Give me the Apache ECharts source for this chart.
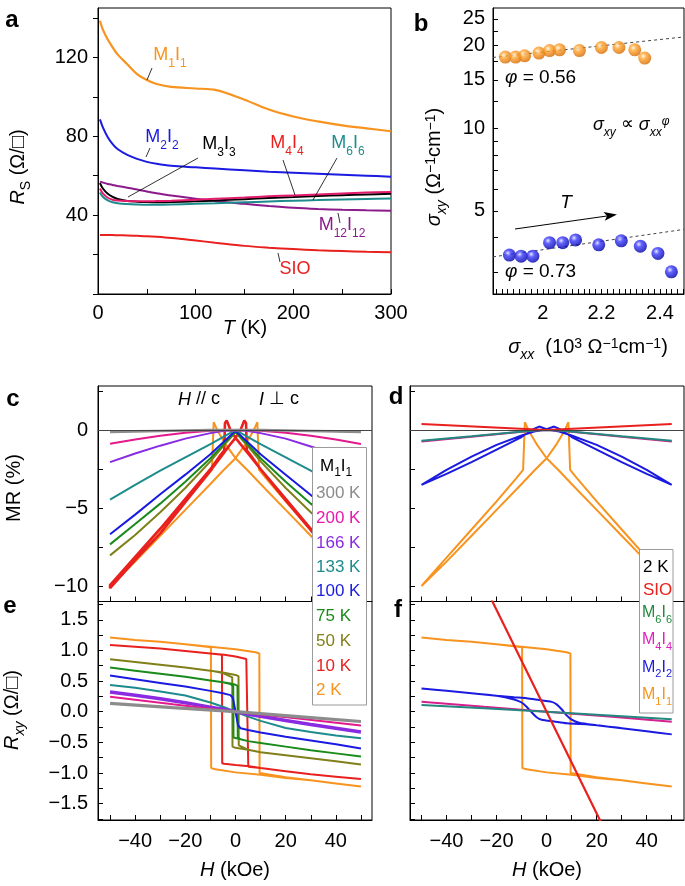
<!DOCTYPE html>
<html><head><meta charset="utf-8">
<script src="https://cdn.jsdelivr.net/npm/echarts@6/dist/echarts.min.js"></script>
<style>html,body{margin:0;padding:0;background:#fff}#c{width:685px;height:886px}</style>
</head><body><div id="c"></div><script>
const FONT = "'Liberation Sans', Arial, Helvetica, sans-serif";

// ---------- Panel a : R_S vs T ----------
const tempA = [2,5,10,15,20,30,40,50,60,75,100,120,150,175,200,225,250,275,300];
const rsM1I1 = [138.5,134,129,125,121.5,116.5,111.5,108.5,106.5,105,104.2,103.5,98.5,93.5,90,87.5,85.5,84,82.5];
const rsM2I2 = [88.5,84.5,79.5,76,73.5,70.5,68.5,67,66,65,64.2,63.6,62.7,62,61.5,61,60.5,60,59.5];
const rsM3I3 = [56.2,53.5,50.8,49.2,48.2,47.2,46.8,46.6,46.5,46.6,47.0,47.4,48.1,48.7,49.2,49.7,50.1,50.5,50.8];
const rsM4I4 = [53.5,51,48.8,47.8,47.4,47.1,47.0,47.0,47.1,47.3,47.8,48.3,48.9,49.5,50.0,50.5,51.0,51.4,51.7];
const rsM6I6 = [51.5,49.3,47.5,46.5,46.0,45.6,45.4,45.3,45.3,45.4,45.7,46.0,46.5,46.9,47.3,47.6,47.9,48.2,48.4];
const rsM12I12 = [57.0,56.5,55.8,55.3,54.8,53.9,53.0,52.0,51.1,49.9,48.3,47.1,45.7,44.6,43.7,43.1,42.7,42.4,42.2];
const rsSIO = [29.9,29.9,29.9,29.9,29.8,29.7,29.5,29.3,29.0,28.4,27.1,26.0,24.4,23.5,22.8,22.2,21.8,21.4,21.2];
const aXTicks = [0,50,100,150,200,250,300];
const aXLabels = [0,100,200,300];
const aYTicks = [0,20,40,60,80,100,120,140];
const aYLabels = [40,80,120];

// ---------- Panel b : sigma_xy vs sigma_xx ----------
const sxxOrange = [1.872,1.907,1.938,1.987,2.023,2.057,2.125,2.200,2.260,2.314,2.348];
const sxyOrange = [18.15,18.15,18.35,18.77,19.18,19.29,19.18,19.67,19.67,19.29,18.0];
const sxxBlue = [1.886,1.926,1.966,2.023,2.068,2.112,2.191,2.268,2.333,2.393,2.439];
const sxyBlue = [3.45,3.42,3.42,3.83,3.83,3.92,3.76,3.89,3.72,3.50,3.00];
const fitX = [1.83, 2.482];
const fitOrange = [18.1, 21.5];
const fitBlue = [3.40, 4.28];
const bXLabels = [2, 2.2, 2.4];
const bYTicks = [3,4,5,6,7,8,9,10,12.5,15,17.5,20,22.5,25];
const bYLabels = [5,10,15,20,25];

// ---------- Panel c : MR vs H (M1I1) ----------
const mrH = [-50,-40,-30,-20,-10,-5,0,5,10,20,30,40,50];
const mr300K = [-0.12,-0.09,-0.06,-0.03,-0.01,0,0,0,-0.01,-0.03,-0.06,-0.09,-0.12];
const mr200K = [-0.88,-0.6,-0.36,-0.17,-0.05,-0.01,0,-0.01,-0.05,-0.17,-0.36,-0.6,-0.9];
const mr166K = [-2.05,-1.5,-1.0,-0.55,-0.2,-0.06,0,-0.06,-0.2,-0.55,-1.05,-1.55,-2.05];
const mr133K = [-4.45,-3.5,-2.6,-1.75,-0.9,-0.45,0,-0.45,-0.9,-1.75,-2.6,-3.5,-4.45];
const mr100K = [-6.65,-5.4,-4.1,-2.85,-1.55,-0.8,-0.05,-0.8,-1.55,-2.85,-4.15,-5.4,-6.65];
const mr75K = [-7.3,-6.0,-4.7,-3.3,-1.8,-0.95,-0.1,-0.95,-1.8,-3.3,-4.7,-6.0,-7.3];
const mr50K = [-8.0,-6.7,-5.25,-3.7,-2.0,-1.05,-0.15,-1.05,-2.0,-3.7,-5.25,-6.7,-8.0];
const mr10KH = [50,40,30,20,10,5,2,0,-2,-3.5,-4.2,-4.5,-6,-10,-20,-30,-40,-50,
                -50,-40,-30,-20,-10,-5,-2,0,2,3.5,4.2,4.5,6,10,20,30,40,50];
const mr10K = [-10.0,-8.2,-6.4,-4.5,-2.5,-1.5,-0.9,-0.5,0.0,0.6,0.45,-1.3,-1.6,-2.5,-4.4,-6.3,-8.1,-9.9,
               -10.1,-8.3,-6.6,-4.6,-2.6,-1.55,-0.9,-0.5,0.0,0.6,0.45,-1.3,-1.6,-2.5,-4.4,-6.3,-8.1,-9.95];
const mr2KH = [50,40,30,20,10,5,0,-4,-7,-8.7,-9.2,-9.4,-12,-20,-30,-40,-50,
               -50,-40,-30,-20,-10,-5,0,4,7,8.7,9.2,9.4,12,20,30,40,50];
const mr2K = [-10.0,-8.4,-6.75,-5.1,-3.45,-2.6,-1.8,-0.9,-0.1,0.5,0.4,-2.55,-3.05,-4.55,-6.35,-8.15,-9.95,
              -9.95,-8.4,-6.75,-5.1,-3.45,-2.6,-1.8,-0.9,-0.1,0.5,0.4,-2.55,-3.05,-4.55,-6.35,-8.15,-10.0];

// ---------- Panel d : MR at 2 K ----------
const h5 = [-50,-25,0,25,50];
const h9 = [-50,-30,-15,-5,0,5,15,30,50];
const mrSIO = [0.38,0.19,0.0,0.19,0.38];
const mrM6I6 = [-0.68,-0.4,-0.17,-0.03,0,-0.03,-0.17,-0.4,-0.68];
const mrM4I4 = [-0.73,-0.43,-0.19,-0.04,0,-0.04,-0.19,-0.43,-0.73];
const mrM2I2H = [50,40,30,20,10,5,0,-3,-6,-10,-20,-30,-40,-50,
                 -50,-40,-30,-20,-10,-5,0,3,6,10,20,30,40,50];
const mrM2I2 = [-3.5,-2.55,-1.7,-0.95,-0.35,-0.1,0.05,0.22,0.0,-0.45,-1.25,-2.05,-2.8,-3.5,
                -3.5,-2.55,-1.7,-0.95,-0.35,-0.1,0.05,0.22,0.0,-0.45,-1.25,-2.05,-2.8,-3.5];

// ---------- Panel e : Rxy vs H (M1I1) ----------
const rxy300K = [0.135,0.065,0,-0.08,-0.16];
const rxy200K = [0.245,0.12,0,-0.11,-0.225];
const rxy166K = [0.32,0.27,0.21,0.145,0.075,0.04,0,-0.04,-0.075,-0.145,-0.21,-0.27,-0.33];
const rxy133K = [0.435,0.39,0.33,0.265,0.15,0.08,0,-0.08,-0.15,-0.265,-0.33,-0.39,-0.435];
const rxy100KH = [-50,-40,-30,-20,-10,-5,-2,-1,0,1,2,5,10,20,30,40,50];
const rxy100K = [0.59,0.53,0.47,0.41,0.34,0.3,0.27,0.22,0,-0.22,-0.27,-0.3,-0.34,-0.41,-0.47,-0.53,-0.6];
const rxy75KH = [50,40,30,20,10,5,2,0,-0.8,-0.9,-2,-5,-10,-20,-30,-40,-50,
                 -50,-40,-30,-20,-10,-5,-2,0,0.8,0.9,2,5,10,20,30,40,50];
const rxy75K = [-0.73,-0.68,-0.63,-0.57,-0.51,-0.48,-0.45,-0.43,-0.42,0.42,0.45,0.48,0.51,0.57,0.62,0.67,0.72,
                0.72,0.67,0.62,0.57,0.51,0.48,0.46,0.44,0.42,-0.42,-0.45,-0.48,-0.51,-0.57,-0.63,-0.68,-0.73];
const rxy50KH = [50,40,30,20,10,5,0,-1.2,-1.3,-2,-5,-10,-20,-30,-40,-50,
                 -50,-40,-30,-20,-10,-5,0,1.2,1.3,2,5,10,20,30,40,50];
const rxy50K = [-0.86,-0.81,-0.76,-0.71,-0.66,-0.62,-0.59,-0.57,0.56,0.58,0.63,0.67,0.72,0.765,0.81,0.855,
                0.855,0.81,0.765,0.72,0.67,0.64,0.6,0.58,-0.55,-0.57,-0.62,-0.66,-0.71,-0.76,-0.81,-0.86];
const rxy10KH = [50,40,30,20,10,5.5,0,-4.5,-5.3,-5.4,-10,-20,-30,-40,-50,
                 -50,-40,-30,-20,-10,-4.5,0,4.3,5.0,5.1,10,20,30,40,50];
const rxy10K = [-1.10,-1.06,-1.02,-0.97,-0.92,-0.89,-0.87,-0.85,-0.84,0.93,0.95,0.99,1.03,1.06,1.09,
                1.09,1.06,1.03,0.99,0.95,0.93,0.9,0.86,0.85,-0.9,-0.92,-0.97,-1.02,-1.06,-1.10];
const rxy2KH = [50,40,30,20,10,0,-8,-9.7,-9.8,-20,-30,-40,-50,
                -50,-40,-30,-20,-10,0,8,9.5,9.6,20,30,40,50];
const rxy2K = [-1.22,-1.17,-1.12,-1.08,-1.03,-0.99,-0.94,-0.92,1.05,1.1,1.14,1.17,1.21,
               1.21,1.17,1.14,1.1,1.06,1.02,0.97,0.95,-1.0,-1.07,-1.12,-1.17,-1.22];

// ---------- Panel f : Rxy at 2 K ----------
const rxyM6I6 = [0.11,0.055,0,-0.06,-0.124];
const rxyM4I4 = [0.163,0.08,0,-0.08,-0.163];
const rxyM2I2H = [-50,-40,-30,-20,-13,-8,-3,2,4,6,8,10,13,20,30,40,50,
                  50,40,30,20,13,8,3,-2,-4,-6,-8,-10,-13,-20,-30,-40,-50];
const rxyM2I2 = [0.38,0.34,0.3,0.26,0.235,0.22,0.19,0.16,0.12,0.04,-0.06,-0.13,-0.18,-0.22,-0.27,-0.32,-0.37,
                 -0.37,-0.32,-0.27,-0.22,-0.2,-0.19,-0.16,-0.13,-0.09,-0.01,0.08,0.15,0.2,0.26,0.3,0.34,0.38];
const sioH = [-50,50];
const rxySIO = [4.15,-4.15];

const hTicks = [-50,-40,-30,-20,-10,0,10,20,30,40,50];
const hLabels = [-40,-20,0,20,40];
const mrTicks = [2.5,0,-2.5,-5,-7.5,-10];
const mrLabels = [0,-5,-10];
const rxyTicks = [-1.75,-1.5,-1.25,-1,-0.75,-0.5,-0.25,0,0.25,0.5,0.75,1,1.25,1.5,1.75];
const rxyLabels = [-1.5,-1,-0.5,0,0.5,1,1.5];

// ---------- helpers ----------
const C = {orange:'#f7931e', red:'#e8201e', blue:'#1a1ae0', teal:'#1e8c8c', green:'#1a8a1a', olive:'#80801a',
  violet:'#8a2be2', magenta:'#e3198c', gray:'#8c8c8c', purple:'#8b1a8b', pink:'#e31b6d', black:'#000',
  teal2:'#24887e', mag2:'#d6208f'};
const bXTicks = []; for (let i = 0; i <= 32; i++) bXTicks.push(Math.round((1.84 + 0.02*i)*100)/100);

function pts(xs, ys){ return xs.map((x,i)=>[x, ys[i]]); }
function minus(v){ return v < 0 ? '\u2212' + String(Math.abs(v)) : String(v); }
function lineS(idx, xs, ys, color, w, extra){
  return Object.assign({type:'line', xAxisIndex:idx, yAxisIndex:idx, data:pts(xs,ys), symbol:'none',
    lineStyle:{color:color, width:w}, itemStyle:{color:color}, silent:true, clip:true}, extra||{});
}
function ax(grid, min, max, ticks, labels, o){
  o = o || {};
  return {type:o.type||'value', logBase:10, gridIndex:grid, min:min, max:max,
    axisLine:{show:true, onZero:false, lineStyle:{color:'#000', width:1}},
    axisTick:{show:true, inside:!!o.inside, length:o.len||5, customValues:ticks, lineStyle:{color:'#000', width:1}},
    axisLabel:{show:labels.length>0, customValues:labels.length?labels:undefined, margin:o.margin||10, fontSize:20,
      fontFamily:FONT, color:'#000', formatter:o.fmt||minus},
    splitLine:{show:false}, minorTick:{show:false}, minorSplitLine:{show:false}};
}
function richSet(size, color){
  const sub = Math.round(size*0.68), lh = Math.round(size*1.25);
  const b = {fontFamily:FONT, fill:color, color:color};
  return {
    m:Object.assign({fontSize:size, lineHeight:lh, verticalAlign:'top'}, b),
    i:Object.assign({fontSize:size, lineHeight:lh, verticalAlign:'top', fontStyle:'italic'}, b),
    s:Object.assign({fontSize:sub, lineHeight:sub, verticalAlign:'bottom'}, b),
    si:Object.assign({fontSize:sub, lineHeight:sub, verticalAlign:'bottom', fontStyle:'italic'}, b),
    u:Object.assign({fontSize:sub, lineHeight:sub, verticalAlign:'top'}, b),
    ui:Object.assign({fontSize:sub, lineHeight:sub, verticalAlign:'top', fontStyle:'italic'}, b)
  };
}
function txt(x, y, text, size, color, o){
  o = o || {};
  return {type:'text', x:x, y:y, rotation:o.rot||0, z:100, silent:true,
    style:{text:text, x:0, y:0, align:o.align||'center', textAlign:o.align||'center',
      verticalAlign:'middle', textVerticalAlign:'middle', fill:color,
      font:(o.bold?'bold ':'')+size+'px '+FONT, rich:o.plain?undefined:richSet(size,color)}};
}
function seg(x1,y1,x2,y2,w){ return {type:'line', z:100, silent:true, shape:{x1:x1,y1:y1,x2:x2,y2:y2}, style:{stroke:'#000', lineWidth:w||0.8}}; }
function ball(c0, c1, c2){
  return {type:'radial', x:0.38, y:0.35, r:0.65, colorStops:[{offset:0,color:c0},{offset:0.35,color:c1},{offset:1,color:c2}]};
}

// ---------- axes ----------
const xAxes = [
  ax(0, 0, 300, aXTicks, aXLabels, {inside:true, margin:9}),
  ax(1, 1.83, 2.482, bXTicks, bXLabels, {inside:true, margin:9, fmt:v=>(Math.abs(v-2)<1e-9?'2':v.toFixed(1))}),
  ax(2, -54.8, 54.4, hTicks, [], {inside:true}),
  ax(3, -54.6, 54.9, hTicks, [], {inside:true}),
  ax(4, -54.8, 54.4, hTicks, hLabels, {inside:true, margin:11}),
  ax(5, -54.6, 54.9, hTicks, hLabels, {inside:true, margin:11})
];
const eFmt = v => (v<0?'\u2212':'') + Math.abs(v).toFixed(1);
const yAxes = [
  ax(0, 0, 145, aYTicks, aYLabels, {inside:false, margin:10}),
  ax(1, 2.49, 27.4, bYTicks, bYLabels, {type:'log', inside:true, margin:8}),
  ax(2, -10.945, 2.808, mrTicks, mrLabels, {inside:true, margin:10}),
  ax(3, -10.945, 2.808, mrTicks, [], {inside:true}),
  ax(4, -1.767, 1.798, rxyTicks, rxyLabels, {inside:true, margin:10, fmt:eFmt}),
  ax(5, -1.767, 1.798, rxyTicks, [], {inside:true})
];
const gridBase = {show:true, borderColor:'#000', borderWidth:1, containLabel:false};
const grids = [
  {left:98, top:8, width:293, height:286},
  {left:493, top:8, width:191, height:286},
  {left:98, top:386, width:274, height:215.5},
  {left:410, top:386, width:274, height:215.5},
  {left:98, top:601.5, width:274, height:218.5},
  {left:410, top:601.5, width:274, height:218.5}
].map(g => Object.assign({}, gridBase, g));

const zeroLine = {silent:true, symbol:'none', label:{show:false}, lineStyle:{color:'#444', width:1, type:'solid'}, data:[{yAxis:0}]};

// ---------- series ----------
const sm = {smooth:0.35};
const series = [
  // a
  lineS(0, tempA, rsSIO, C.red, 2, sm),
  lineS(0, tempA, rsM12I12, C.purple, 2, sm),
  lineS(0, tempA, rsM6I6, C.teal, 2, sm),
  lineS(0, tempA, rsM3I3, C.black, 2, sm),
  lineS(0, tempA, rsM4I4, C.pink, 2, sm),
  lineS(0, tempA, rsM2I2, C.blue, 2, sm),
  lineS(0, tempA, rsM1I1, C.orange, 2.2, sm),
  // b
  lineS(1, fitX, fitOrange, '#444', 1, {lineStyle:{color:'#444', width:1, type:[3,3]}, z:1}),
  lineS(1, fitX, fitBlue, '#444', 1, {lineStyle:{color:'#444', width:1, type:[3,3]}, z:1}),
  {type:'scatter', xAxisIndex:1, yAxisIndex:1, data:pts(sxxOrange, sxyOrange), symbolSize:13, z:3, silent:true,
   itemStyle:{color:ball('#fff3e0','#ffa530','#d86a00')}},
  {type:'scatter', xAxisIndex:1, yAxisIndex:1, data:pts(sxxBlue, sxyBlue), symbolSize:13, z:3, silent:true,
   itemStyle:{color:ball('#e0e0ff','#3a3aff','#0000a8')}},
  // c
  lineS(2, mr2KH, mr2K, C.orange, 2, {markLine:zeroLine}),
  lineS(2, mr10KH, mr10K, C.red, 2.6),
  lineS(2, mrH, mr50K, C.olive, 2),
  lineS(2, mrH, mr75K, C.green, 2),
  lineS(2, mrH, mr100K, C.blue, 2),
  lineS(2, mrH, mr133K, C.teal, 2),
  lineS(2, mrH, mr166K, C.violet, 2),
  lineS(2, mrH, mr200K, C.magenta, 2),
  lineS(2, mrH, mr300K, C.gray, 2.6),
  // d
  lineS(3, mr2KH, mr2K, C.orange, 2, {markLine:zeroLine}),
  lineS(3, mrM2I2H, mrM2I2, C.blue, 2),
  lineS(3, h9, mrM4I4, C.mag2, 2),
  lineS(3, h9, mrM6I6, C.teal2, 2),
  lineS(3, h5, mrSIO, C.red, 2),
  // e
  lineS(4, rxy2KH, rxy2K, C.orange, 2),
  lineS(4, rxy10KH, rxy10K, C.red, 2),
  lineS(4, rxy50KH, rxy50K, C.olive, 2),
  lineS(4, rxy75KH, rxy75K, C.green, 2),
  lineS(4, rxy100KH, rxy100K, C.blue, 2),
  lineS(4, mrH, rxy133K, C.teal, 2),
  lineS(4, mrH, rxy166K, C.violet, 3.5),
  lineS(4, h5, rxy200K, C.magenta, 2),
  lineS(4, h5, rxy300K, C.gray, 3.2),
  // f
  lineS(5, rxy2KH, rxy2K, C.orange, 2),
  lineS(5, rxyM2I2H, rxyM2I2, C.blue, 2, {smooth:0.25}),
  lineS(5, h5, rxyM4I4, C.mag2, 2),
  lineS(5, h5, rxyM6I6, C.teal2, 2),
  lineS(5, sioH, rxySIO, C.red, 2.2)
];

// ---------- annotations ----------
const arrowTip = [617, 214.6], arrowTail = [515, 229];
const dx = arrowTip[0]-arrowTail[0], dy = arrowTip[1]-arrowTail[1], dl = Math.hypot(dx,dy);
const ux = dx/dl, uy = dy/dl;
const baseX = arrowTip[0]-ux*13, baseY = arrowTip[1]-uy*13;
const graphics = [
  // panel letters
  txt(12, 20, 'a', 24, '#000', {bold:true, plain:true}),
  txt(421, 24, 'b', 24, '#000', {bold:true, plain:true}),
  txt(13, 399, 'c', 24, '#000', {bold:true, plain:true}),
  txt(396, 397, 'd', 24, '#000', {bold:true, plain:true}),
  txt(10, 606, 'e', 24, '#000', {bold:true, plain:true}),
  txt(398, 610, 'f', 24, '#000', {bold:true, plain:true}),
  // axis titles
  txt(21, 167, '{i|R}{s|S}{m| (Ω/□)}', 20, '#000', {rot:Math.PI/2}),
  txt(245, 331, '{i|T}{m| (K)}', 20, '#000'),
  txt(437, 167, '{i|σ}{si|xy}{m| (Ω}{u|−1}{m|cm}{u|−1}{m|)}', 20, '#000', {rot:Math.PI/2}),
  txt(588, 350, '{i|σ}{si|xx}{m|  (10}{u|3}{m| Ω}{u|−1}{m|cm}{u|−1}{m|)}', 20, '#000'),
  txt(17, 488, '{m|MR (%)}', 20, '#000', {rot:Math.PI/2}),
  txt(15, 710, '{i|R}{si|xy}{m| (Ω/□)}', 20, '#000', {rot:Math.PI/2}),
  txt(235, 873, '{i|H}{m| (kOe)}', 20, '#000'),
  txt(547, 873, '{i|H}{m| (kOe)}', 20, '#000'),
  // panel a labels
  txt(170, 58, '{m|M}{s|1}{m|I}{s|1}', 18, C.orange),
  txt(162, 140, '{m|M}{s|2}{m|I}{s|2}', 18, C.blue),
  txt(219, 147, '{m|M}{s|3}{m|I}{s|3}', 18, '#000'),
  txt(287, 146, '{m|M}{s|4}{m|I}{s|4}', 18, C.red),
  txt(348, 146, '{m|M}{s|6}{m|I}{s|6}', 18, C.teal),
  txt(342, 228, '{m|M}{s|12}{m|I}{s|12}', 18, C.purple),
  txt(295, 272, '{m|SIO}', 18, C.red),
  seg(152,68,147,80), seg(150,148,146,157), seg(198,158,128,197), seg(283,160,295,195),
  seg(337,158,313,200), seg(338,213,340,223), seg(278,253,280,262),
  // panel b labels
  txt(505, 80, '{i|φ}{m| = 0.56}', 19, '#000', {align:'left'}),
  txt(505, 274, '{i|φ}{m| = 0.73}', 19, '#000', {align:'left'}),
  txt(593, 127, '{i|σ}{si|xy}{m| ∝ }{i|σ}{si|xx}{ui|φ}', 18, '#000', {align:'left'}),
  txt(566, 205, '{i|T}', 19, '#000'),
  {type:'line', z:100, silent:true, shape:{x1:arrowTail[0], y1:arrowTail[1], x2:baseX+ux*3, y2:baseY+uy*3}, style:{stroke:'#000', lineWidth:1}},
  {type:'polygon', z:100, silent:true, shape:{points:[[arrowTip[0],arrowTip[1]],[baseX-uy*4.5, baseY+ux*4.5],[baseX+ux*3,baseY+uy*3],[baseX+uy*4.5, baseY-ux*4.5]]}, style:{fill:'#000'}},
  // panel c annotation
  txt(199, 402, '{i|H}{m| // c}', 18, '#000'),
  txt(279, 402, '{i|I}{m| ⊥ c}', 18, '#000'),
  // legend c/e
  {type:'rect', z:90, silent:true, shape:{x:312.5, y:447.5, width:54, height:257.5}, style:{fill:'#fff', stroke:'#9a9a9a', lineWidth:1}},
  txt(320, 468, '{m|M}{s|1}{m|I}{s|1}', 17, '#000', {align:'left'}),
  txt(316, 493, '300 K', 17, C.gray, {align:'left', plain:true}),
  txt(316, 518, '200 K', 17, '#e619b0', {align:'left', plain:true}),
  txt(316, 543, '166 K', 17, C.violet, {align:'left', plain:true}),
  txt(316, 567, '133 K', 17, C.teal, {align:'left', plain:true}),
  txt(316, 591, '100 K', 17, C.blue, {align:'left', plain:true}),
  txt(316, 616.5, '75 K', 17, C.green, {align:'left', plain:true}),
  txt(316, 641, '50 K', 17, C.olive, {align:'left', plain:true}),
  txt(316, 666, '10 K', 17, C.red, {align:'left', plain:true}),
  txt(316, 690, '2 K', 17, C.orange, {align:'left', plain:true}),
  // legend d/f
  {type:'rect', z:90, silent:true, shape:{x:639.5, y:549.5, width:33.5, height:163.5}, style:{fill:'#fff', stroke:'#9a9a9a', lineWidth:1}},
  txt(643, 567, '2 K', 17, '#000', {align:'left', plain:true}),
  txt(643, 590, 'SIO', 17, C.red, {align:'left', plain:true}),
  txt(642, 615, '{m|M}{s|6}{m|I}{s|6}', 16, '#1f8a3c', {align:'left'}),
  txt(642, 642, '{m|M}{s|4}{m|I}{s|4}', 16, '#e020c0', {align:'left'}),
  txt(642, 669.5, '{m|M}{s|2}{m|I}{s|2}', 16, C.blue, {align:'left'}),
  txt(642, 697, '{m|M}{s|1}{m|I}{s|1}', 16, C.orange, {align:'left'})
];

const chart = echarts.init(document.getElementById('c'), null, {renderer:'canvas', width:685, height:886});
chart.setOption({
  animation:false,
  backgroundColor:'#fff',
  textStyle:{fontFamily:FONT},
  grid:grids, xAxis:xAxes, yAxis:yAxes, series:series, graphic:graphics
});
</script></body></html>
